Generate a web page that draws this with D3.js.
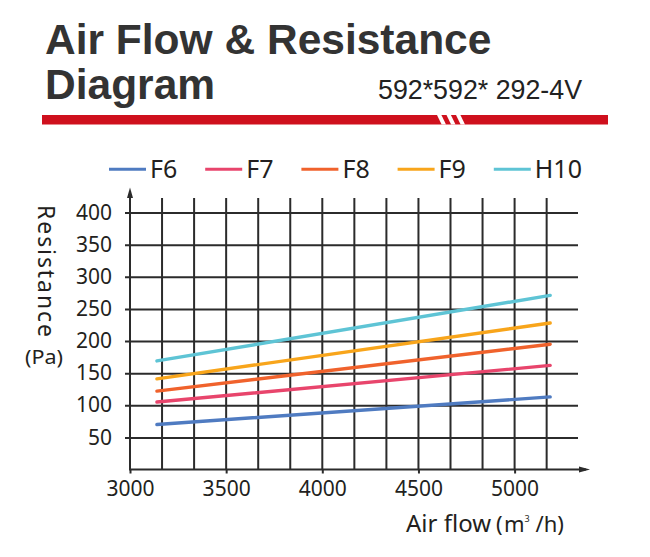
<!DOCTYPE html>
<html lang="en">
  <head>
    <meta charset="UTF-8" />
    <title>Air Flow & Resistance Diagram</title>
    <script src="https://cdnjs.cloudflare.com/ajax/libs/d3/7.8.5/d3.min.js"></script>
    <style>
      body {
        margin: 0;
        background: #fff;
      }
      svg {
        display: block;
      }
      .title {
        font-family: "Liberation Sans", Arial, sans-serif;
        font-weight: bold;
        font-size: 42.5px;
        fill: #333;
      }
      .model {
        font-family: "Liberation Sans Narrow", "Liberation Sans", sans-serif;
        font-size: 27px;
        fill: #222;
      }
      .legend text {
        font-family: "Noto Sans", sans-serif;
        font-size: 25px;
        fill: #231f20;
      }
      .axis text {
        font-family: "Noto Sans", sans-serif;
        font-size: 21px;
        fill: #231f20;
      }
      .axis .domain {
        display: none;
      }
      .axis-title {
        font-family: "Noto Sans", sans-serif;
        fill: #231f20;
      }
    </style>
  </head>

  <body>
    <svg width="650" height="557"></svg>
    <script>
      // 数据
      const series = ["F6", "F7", "F8", "F9", "H10"];
      const colors = ["#4f7bc1", "#e8456c", "#f0622c", "#f8a51b", "#5ec4d5"];
      const airFlow = [3140, 5185];
      const f6 = [70, 113];
      const f7 = [105, 162];
      const f8 = [122, 195];
      const f9 = [141, 228];
      const h10 = [169, 271];
      const xLabels = [3000, 3500, 4000, 4500, 5000];
      const yLabels = [50, 100, 150, 200, 250, 300, 350, 400];

      const values = [f6, f7, f8, f9, h10];
      const lineData = series.map((name, i) => ({
        name: name,
        color: colors[i],
        points: airFlow.map((f, j) => ({ flow: f, pa: values[i][j] }))
      }));

      const svg = d3.select("svg");
      const gridColor = "#2b2b2b";

      // 比例尺
      const x = d3.scaleLinear().domain([3000, 5000]).range([130, 514.6]);
      const y = d3.scaleLinear().domain([0, 400]).range([469.5, 212.5]);
      // 网格竖线：每 500 分三格
      const xGrid = d3.range(1, 14).map(k => 3000 + (k * 500) / 3);

      // 标题
      svg.append("text").attr("class", "title")
        .attr("x", 45).attr("y", 53.5)
        .text("Air Flow & Resistance");
      svg.append("text").attr("class", "title")
        .attr("x", 45).attr("y", 98.5)
        .text("Diagram");
      svg.append("text").attr("class", "model")
        .attr("x", 378).attr("y", 98.5)
        .attr("textLength", 204).attr("lengthAdjust", "spacingAndGlyphs")
        .text("592*592* 292-4V");

      // 红色横条 + 白色斜纹
      svg.append("rect")
        .attr("x", 42).attr("y", 115)
        .attr("width", 566).attr("height", 9.5)
        .attr("fill", "#cf101d");
      svg.selectAll(".stripe")
        .data([437, 446.5, 456])
        .join("path")
        .attr("class", "stripe")
        .attr("d", s => `M${s},115 L${s + 4.4},115 L${s + 9},124.5 L${s + 4.6},124.5 Z`)
        .attr("fill", "#fff");

      // 图例
      const legend = svg.append("g").attr("class", "legend")
        .selectAll("g")
        .data(lineData)
        .join("g")
        .attr("transform", (d, i) => `translate(${109 + i * 96.2},0)`);
      legend.append("line")
        .attr("x1", 0).attr("x2", 37)
        .attr("y1", 169.3).attr("y2", 169.3)
        .attr("stroke", d => d.color)
        .attr("stroke-width", 3);
      legend.append("text")
        .attr("x", 41).attr("y", 177.5)
        .text(d => d.name);

      // 竖网格线
      svg.append("g")
        .selectAll("line")
        .data(xGrid)
        .join("line")
        .attr("x1", d => x(d)).attr("x2", d => x(d))
        .attr("y1", 198)
        .attr("y2", y(0))
        .attr("stroke", gridColor)
        .attr("stroke-width", 2);

      // y 轴（含横网格线）
      svg.append("g")
        .attr("class", "axis")
        .attr("transform", "translate(125,0)")
        .call(
          d3.axisLeft(y)
            .tickValues(yLabels)
            .tickSize(-453)
            .tickPadding(13)
        )
        .call(g => g.selectAll(".tick line")
          .attr("stroke", gridColor).attr("stroke-width", 2));

      // x 轴刻度文字
      svg.append("g")
        .attr("class", "axis")
        .attr("transform", `translate(0,${y(0)})`)
        .call(
          d3.axisBottom(x)
            .tickValues(xLabels)
            .tickSize(4)
            .tickPadding(8)
            .tickFormat(d3.format("d"))
        )
        .call(g => g.selectAll(".tick line")
          .attr("stroke", gridColor).attr("stroke-width", 2));

      // 坐标轴主线 + 箭头
      svg.append("line")
        .attr("x1", x(3000)).attr("x2", 586)
        .attr("y1", y(0)).attr("y2", y(0))
        .attr("stroke", gridColor).attr("stroke-width", 2);
      svg.append("path")
        .attr("d", `M590,${y(0)} L579,${y(0) - 3} L579,${y(0) + 3} Z`)
        .attr("fill", gridColor);
      svg.append("line")
        .attr("x1", x(3000)).attr("x2", x(3000))
        .attr("y1", y(0) + 1).attr("y2", 192)
        .attr("stroke", gridColor).attr("stroke-width", 2);
      svg.append("path")
        .attr("d", `M${x(3000)},187.5 L${x(3000) - 3},198 L${x(3000) + 3},198 Z`)
        .attr("fill", gridColor);

      // 数据线
      const line = d3.line()
        .x(d => x(d.flow))
        .y(d => y(d.pa));
      svg.append("g")
        .selectAll("path")
        .data(lineData)
        .join("path")
        .attr("d", d => line(d.points))
        .attr("fill", "none")
        .attr("stroke", d => d.color)
        .attr("stroke-width", 3.4)
        .attr("stroke-linecap", "round");

      // 轴标题
      svg.append("text")
        .attr("class", "axis-title")
        .attr("transform", "translate(38,205) rotate(90)")
        .attr("font-size", 23)
        .attr("textLength", 132).attr("lengthAdjust", "spacing")
        .text("Resistance");
      svg.append("text")
        .attr("class", "axis-title")
        .attr("x", 25).attr("y", 364)
        .attr("font-size", 20)
        .attr("textLength", 38).attr("lengthAdjust", "spacingAndGlyphs")
        .text("(Pa)");
      const xt = svg.append("text")
        .attr("class", "axis-title")
        .attr("x", 406).attr("y", 531.5)
        .attr("font-size", 24);
      xt.append("tspan").text("Air flow");
      xt.append("tspan").attr("x", 496).attr("font-size", 22).text("(");
      xt.append("tspan").attr("x", 504).attr("font-size", 22).text("m");
      xt.append("tspan").attr("font-size", 9).attr("dy", -10).text("3");
      xt.append("tspan").attr("dy", 10).attr("font-size", 22).text(" /h)");
    </script>
  </body>
</html>
